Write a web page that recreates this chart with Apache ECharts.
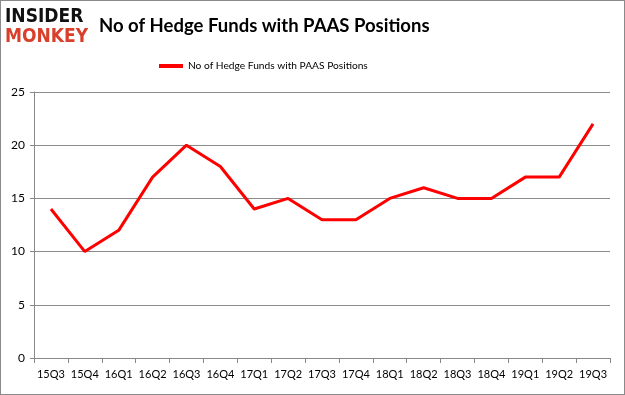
<!DOCTYPE html>
<html><head><meta charset="utf-8">
<script src="https://cdn.jsdelivr.net/npm/echarts@6/dist/echarts.min.js"></script>
<style>html,body{margin:0;padding:0;background:#fff}#c{width:625px;height:395px;box-sizing:border-box;border:1px solid #8a8a8a}</style>
</head><body><div id="c"></div>
<script>
const categories = ["15Q3","15Q4","16Q1","16Q2","16Q3","16Q4","17Q1","17Q2","17Q3","17Q4","18Q1","18Q2","18Q3","18Q4","19Q1","19Q2","19Q3"];
const funds = [14,10,12,17,20,18,14,15,13,13,15,16,15,15,17,17,22];
const seriesName = "No of Hedge Funds with PAAS Positions";
const titleText = "No of Hedge Funds with PAAS Positions";

const chart = echarts.init(document.getElementById('c'), null, {renderer:'canvas'});
chart.setOption({
  animation:false,
  graphic:[
    {type:'text', left:4, top:7, style:{text:'INSIDER', font:'900 19px "DejaVu Sans Condensed"', fill:'#111'}},
    {type:'text', left:4, top:27, style:{text:'MONKEY', font:'900 19px "DejaVu Sans Condensed"', fill:'#d9402b'}}
  ],
  title:{text:titleText, left:98, top:16, padding:0, textStyle:{fontFamily:'Lato', fontWeight:'bold', fontSize:18.5, color:'#000'}},
  legend:{top:55, left:153, itemWidth:24, itemHeight:4, itemGap:3, icon:'rect', textStyle:{fontFamily:'Lato', fontSize:10.2, color:'#000'}, data:[seriesName]},
  grid:{left:33, right:14, top:91, bottom:36},
  xAxis:{type:'category', data:categories, boundaryGap:true,
    axisLine:{lineStyle:{color:'#888'}}, axisTick:{show:true, alignWithLabel:false, lineStyle:{color:'#888'}, length:5},
    axisLabel:{color:'#000', fontFamily:'Lato', fontSize:11, margin:11, interval:0}},
  yAxis:{type:'value', min:0, max:25, interval:5,
    axisLine:{show:true, lineStyle:{color:'#888'}}, axisTick:{show:true, length:4, lineStyle:{color:'#888'}},
    splitLine:{lineStyle:{color:'#8c8c8c'}},
    axisLabel:{color:'#000', fontFamily:'Lato', fontSize:12, margin:9}},
  series:[{name:seriesName, type:'line', data:funds, showSymbol:false, symbol:'none',
    lineStyle:{color:'#ff0000', width:3}, itemStyle:{color:'#ff0000'}}]
});
</script></body></html>
